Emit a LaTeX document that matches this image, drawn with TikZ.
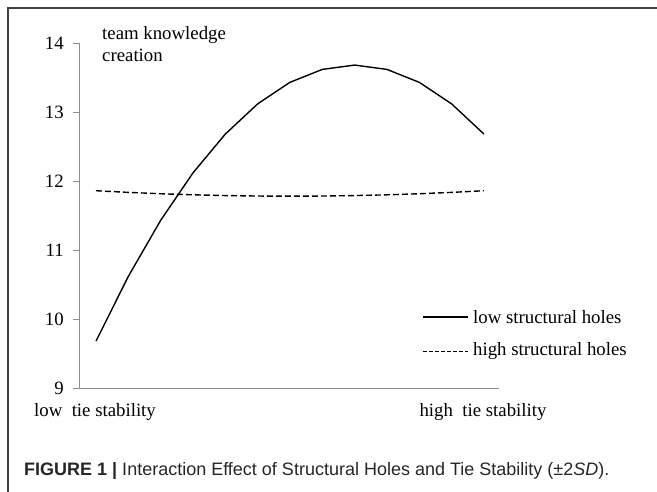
\documentclass[tikz,border=0pt]{standalone}
\usepackage{fontspec}
\setmainfont{Liberation Serif}
\newfontfamily\capfont{Liberation Sans}
\usetikzlibrary{calc}

\begin{document}
\begin{tikzpicture}[x=1pt,y=-1pt,
    frame/.style={draw=black!75,line width=1.3pt},
    axis/.style={draw=black!45,line width=0.9pt},
    curve/.style={line width=1.4pt},
    lbl/.style={font=\fontsize{18.8}{22}\selectfont,inner sep=0pt}]
            \useasboundingbox (0,0) rectangle (657,492);
            \draw [frame] (657,8) -- (8,8) -- (8,492);

            \coordinate (O) at (79,388);
            \coordinate (T) at (79,43);
            \coordinate (E) at (499,388);
            \draw [axis] (T) -- (O) -- (E);

            \foreach \v in {9,...,14}
                {
                    \coordinate (t\v) at ($(O) + (0,{-69*(\v-9)})$);
                    \draw [axis] (t\v) -- ($(t\v) + (-6,0)$);
                    \node [lbl,anchor=east] (n\v) at ($(t\v) + (-15,0)$) {\v};
                }

                \draw [curve] plot [domain=0:12,samples=13] ({96+32.33*\x},{388-69*(13.68-(\x-8)^2/16-9)});
                \draw [curve,dash pattern=on 6pt off 3pt] plot [domain=0:12,samples=13] ({96+32.33*\x},{388-69*(2.78+0.0022*(\x-6)^2)});

                \node [lbl,anchor=north west,align=left] (ylbl) at (102,26) {team knowledge\\creation};
                \node [lbl] (xlow) at (95,412) {low\ \ tie stability};
                \node [lbl] (xhigh) at (483,412) {high\ \ tie stability};

                \coordinate (sA) at (423,317);
                \coordinate (sB) at (468,317);
                \draw [curve] (sA) -- (sB);
                \node [lbl,anchor=west] (slbl) at ($(sB) + (5,0)$) {low structural holes};
                \coordinate (dA) at (423,351);
                \coordinate (dB) at (468,351);
                \draw [line width=1pt,dash pattern=on 4pt off 2pt] (dA) -- (dB);
                \node [lbl,anchor=west] (dlbl) at ($(dB) + (5,0)$) {high structural holes};

                \node [anchor=west,inner sep=0pt,font=\capfont\fontsize{18}{21}\selectfont,text=black!85] (cap) at (24,471)
                    {\textbf{FIGURE 1 |} Interaction Effect of Structural Holes and Tie Stability (±2\textit{SD}).};

        \end{tikzpicture}
\end{document}
